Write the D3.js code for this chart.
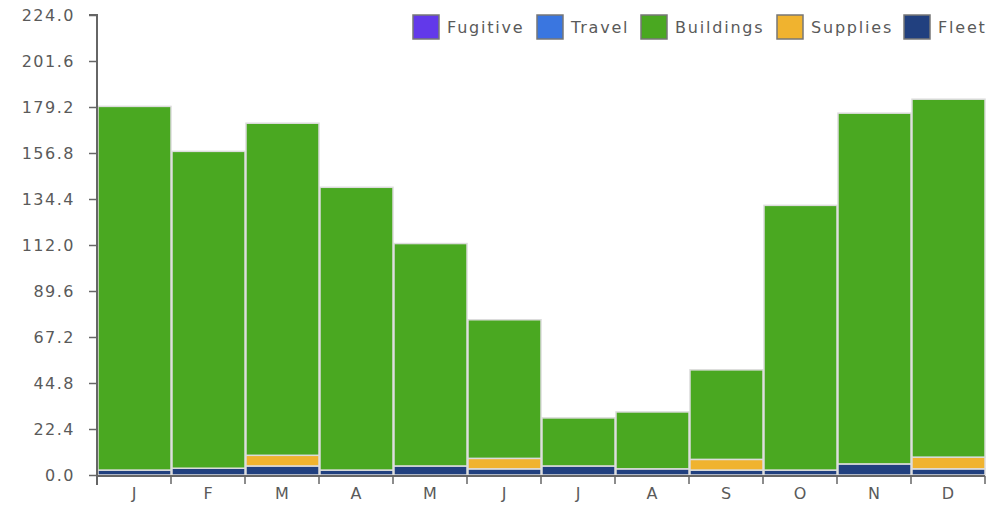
<!DOCTYPE html>
<html><head><meta charset="utf-8">
<script src="https://cdn.jsdelivr.net/npm/d3@7"></script>
<style>
html,body{margin:0;padding:0;background:#fff;}
text{font-family:"DejaVu Sans",Verdana,sans-serif;fill:#5a5a5a;}
</style></head>
<body>
<svg id="chart" width="991" height="506"></svg>
<script>
const months = ["J","F","M","A","M","J","J","A","S","O","N","D"];
const seriesNames = ["Fleet","Supplies","Buildings","Travel","Fugitive"];
const fleet     = [2.4,3.3,4.4,2.4,4.4,3.0,4.4,3.0,2.4,2.4,5.4,3.0];
const supplies  = [0,0,5.2,0,0,5.1,0,0,5.2,0,0,5.7];
const buildings = [177.1,154.3,161.7,137.7,108.3,67.5,23.4,27.7,43.6,128.9,170.8,174.3];
const travel    = [0,0,0,0,0,0,0,0,0,0,0,0];
const fugitive  = [0,0,0,0,0,0,0,0,0,0,0,0];
const yTicks = [0,22.4,44.8,67.2,89.6,112.0,134.4,156.8,179.2,201.6,224.0];
const legendOrder = ["Fugitive","Travel","Buildings","Supplies","Fleet"];
const colors = {Fleet:"#21407f",Supplies:"#f0b32f",Buildings:"#4aa821",Travel:"#3a76e0",Fugitive:"#6239ea"};

const table = months.map((m,i)=>({idx:i,Fleet:fleet[i],Supplies:supplies[i],Buildings:buildings[i],Travel:travel[i],Fugitive:fugitive[i]}));
const stacked = d3.stack().keys(seriesNames)(table);

const svg = d3.select("#chart");
const x = d3.scaleBand().domain(d3.range(12)).range([97,985]).padding(0);
const y = d3.scaleLinear().domain([0,224]).range([475,15]);

// bars
svg.append("g").selectAll("g").data(stacked).join("g")
  .attr("fill",d=>colors[d.key])
  .selectAll("rect").data(d=>d.filter(p=>p[1]-p[0]>0)).join("rect")
  .attr("x",d=>x(d.data.idx)+1)
  .attr("width",x.bandwidth()-1)
  .attr("y",d=>y(d[1]))
  .attr("height",d=>y(d[0])-y(d[1]))
  .attr("stroke","#dcdcdc").attr("stroke-width",1.5);

// y axis
const yAxis = svg.append("g").attr("transform","translate(97,0)")
  .call(d3.axisLeft(y).tickValues(yTicks).tickFormat(d3.format(".1f")).tickSize(8).tickPadding(14));
yAxis.select(".domain").attr("stroke","#666").attr("stroke-width",2).attr("d","M-8,15H0V485");
yAxis.selectAll(".tick line").attr("stroke","#666").attr("stroke-width",1.5);
yAxis.selectAll("text").style("font-size","16px").style("letter-spacing","1.5px").attr("fill","#5a5a5a");

// x axis
const xAxis = svg.append("g").attr("transform","translate(0,476)");
xAxis.append("line").attr("x1",97).attr("x2",985).attr("stroke","#666").attr("stroke-width",2);
xAxis.selectAll("line.t").data(d3.range(13)).join("line").attr("class","t")
  .attr("x1",d=>d<12?x(d):985).attr("x2",d=>d<12?x(d):985)
  .attr("y1",0).attr("y2",8).attr("stroke","#666").attr("stroke-width",1.5);
xAxis.selectAll("text").data(months).join("text")
  .attr("x",(d,i)=>x(i)+x.bandwidth()/2).attr("y",23)
  .attr("text-anchor","middle").style("font-size","16px").text(d=>d);

// legend
const legendX = [413,537,641,777,904];
const lg = svg.append("g");
legendOrder.forEach((k,i)=>{
  lg.append("rect").attr("x",legendX[i]).attr("y",15).attr("width",26).attr("height",24)
    .attr("fill",colors[k]).attr("stroke","#777").attr("stroke-width",1.5);
  lg.append("text").attr("x",legendX[i]+34).attr("y",33).style("font-size","16px")
    .style("letter-spacing","1.8px").text(k);
});
</script>
</body></html>
